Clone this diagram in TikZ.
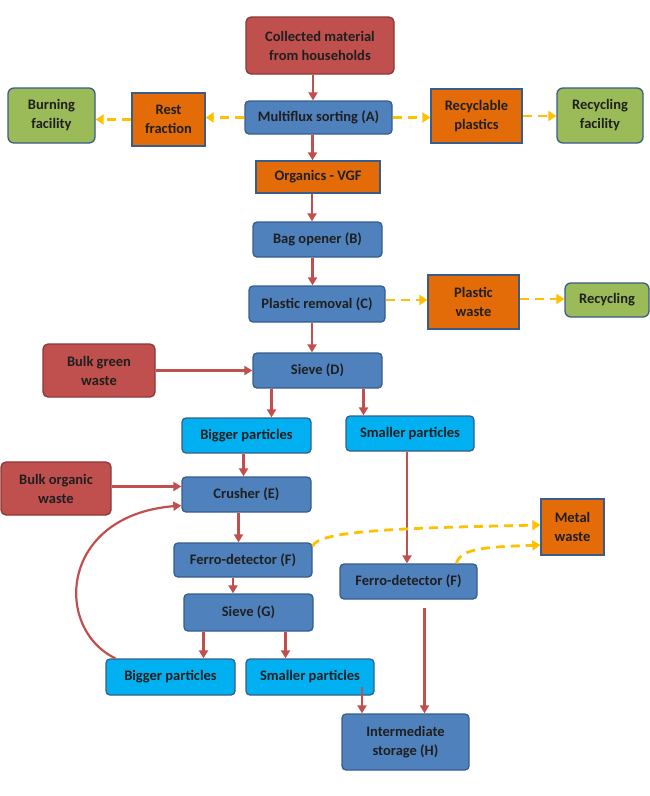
\documentclass[tikz,border=0pt]{standalone}
\usepackage{fontspec}
\setmainfont{Carlito}
\usetikzlibrary{arrows.meta}
\definecolor{boxblue}{HTML}{4F81BD}
\definecolor{edgeblue}{HTML}{385D8A}
\definecolor{boxred}{HTML}{C0504D}
\definecolor{edgered}{HTML}{8C3836}
\definecolor{boxorange}{HTML}{E36C09}
\definecolor{boxgreen}{HTML}{9BBB59}
\definecolor{boxcyan}{HTML}{00B0F0}
\definecolor{flowred}{HTML}{C0504D}
\definecolor{flowyellow}{HTML}{FFC000}
\tikzset{
  basebox/.style={rectangle, align=center, inner sep=0pt, line width=1.3pt,
    text=black!88, font=\fontsize{14.5}{19}\selectfont\bfseries},
  process/.style={basebox, draw=edgeblue, fill=boxblue, rounded corners=4pt},
  source/.style={basebox, draw=edgered, fill=boxred, rounded corners=5pt},
  fraction/.style={basebox, draw=edgeblue, fill=boxorange},
  facility/.style={basebox, draw=edgeblue, fill=boxgreen, rounded corners=6pt},
  particles/.style={basebox, draw=edgeblue, fill=boxcyan, rounded corners=4pt},
  flow/.style={draw=flowred, line width=2.2pt, -{Triangle[width=9pt,length=8pt]}},
  sideflow/.style={draw=flowyellow, line width=2.8pt, dash pattern=on 9pt off 6pt,
    -{Triangle[width=10pt,length=8pt]}}
}
\begin{document}
\begin{tikzpicture}[x=1pt, y=-1pt]
  \useasboundingbox (0,0) rectangle (650,796);

  \node[source, minimum width=148, minimum height=57] (coll) at (320,45.5) {Collected material\\from households};
  \node[process, minimum width=147, minimum height=33] (msort) at (318.5,117.5) {Multiflux sorting (A)};
  \node[fraction, minimum width=73, minimum height=53] (rest) at (168.5,119.5) {Rest\\fraction};
  \node[facility, minimum width=87, minimum height=55] (burn) at (51.5,115.5) {Burning\\facility};
  \node[fraction, minimum width=91, minimum height=54] (recpl) at (476.5,116) {Recyclable\\plastics};
  \node[facility, minimum width=86, minimum height=55] (recfac) at (600,115.5) {Recycling\\facility};
  \node[fraction, minimum width=124, minimum height=32] (vgf) at (318,177) {Organics - VGF};
  \node[process, minimum width=129, minimum height=35] (bag) at (317.5,239.5) {Bag opener (B)};
  \node[process, minimum width=136, minimum height=36] (plrem) at (317,304) {Plastic removal (C)};
  \node[fraction, minimum width=91, minimum height=54] (plw) at (473.5,302) {Plastic\\waste};
  \node[facility, minimum width=84, minimum height=34] (recyc) at (607,300) {Recycling};
  \node[source, minimum width=112, minimum height=53] (green) at (99,370.5) {Bulk green\\waste};
  \node[process, minimum width=129, minimum height=35] (sieveD) at (317.5,370.5) {Sieve (D)};
  \node[particles, minimum width=129, minimum height=35] (bigA) at (246.5,435.5) {Bigger particles};
  \node[particles, minimum width=128, minimum height=35] (smallA) at (410,433.5) {Smaller particles};
  \node[source, minimum width=110, minimum height=53] (orgw) at (56,488.5) {Bulk organic\\waste};
  \node[process, minimum width=129, minimum height=35] (crush) at (246.5,494.5) {Crusher (E)};
  \node[process, minimum width=138, minimum height=34] (ferroL) at (243,560) {Ferro-detector (F)};
  \node[fraction, minimum width=63, minimum height=56] (metal) at (572.5,527) {Metal\\waste};
  \node[process, minimum width=137, minimum height=35] (ferroR) at (408.5,581.5) {Ferro-detector (F)};
  \node[process, minimum width=129, minimum height=37] (sieveG) at (248.5,612.5) {Sieve (G)};
  \node[particles, minimum width=129, minimum height=36] (bigB) at (170.5,677) {Bigger particles};
  \node[particles, minimum width=128, minimum height=36] (smallB) at (310,677) {Smaller particles};
  \node[process, minimum width=127, minimum height=56] (store) at (405.5,742) {Intermediate\\storage (H)};

  \draw[flow] ([xshift=-7]coll.south) -- ([xshift=-7]coll.south |- msort.north);
  \draw[sideflow] (msort.west) -- (msort.west -| rest.east);
  \draw[sideflow] (rest.west) -- (rest.west -| burn.east);
  \draw[sideflow] (msort.east) -- (msort.east -| recpl.west);
  \draw[sideflow] (recpl.east) -- (recpl.east -| recfac.west);
  \draw[flow] ([xshift=-6]msort.south) -- ([xshift=-6]msort.south |- vgf.north);
  \draw[flow] ([xshift=-6]vgf.south) -- ([xshift=-6]vgf.south |- bag.north);
  \draw[flow] ([xshift=-5]bag.south) -- ([xshift=-5]bag.south |- plrem.north);
  \draw[sideflow] ([yshift=4]plrem.east) -- ([yshift=4]plrem.east -| plw.west);
  \draw[sideflow] ([yshift=3]plw.east) -- ([yshift=3]plw.east -| recyc.west);
  \draw[flow] ([xshift=-5]plrem.south) -- ([xshift=-5]plrem.south |- sieveD.north);
  \draw[flow] (green.east) -- (green.east -| sieveD.west);
  \draw[flow] ([xshift=-46]sieveD.south) -- ([xshift=-46]sieveD.south |- bigA.north);
  \draw[flow] ([xshift=46]sieveD.south) -- ([xshift=46]sieveD.south |- smallA.north);
  \draw[flow] ([xshift=-3]bigA.south) -- ([xshift=-3]bigA.south |- crush.north);
  \draw[flow] ([yshift=2]orgw.east) -- ([yshift=2]orgw.east -| crush.west);
  \draw[flow] ([xshift=10]bigB.north west) .. controls +(-62,-30) and +(-122,10) .. ([yshift=-11]crush.west);
  \draw[flow] ([xshift=-8]crush.south) -- ([xshift=-8]crush.south |- ferroL.north);
  \draw[flow] ([xshift=-10]ferroL.south) -- ([xshift=-10]ferroL.south |- sieveG.north);
  \draw[flow] ([xshift=-45]sieveG.south) -- ([xshift=-45]sieveG.south |- bigB.north);
  \draw[flow] ([xshift=37]sieveG.south) -- ([xshift=37]sieveG.south |- smallB.north);
  \draw[flow] ([xshift=-3]smallA.south) -- ([xshift=-3]smallA.south |- ferroR.north);
  \draw[sideflow] ([yshift=-4]ferroL.north east) .. controls +(4,-16) and +(-137,3) .. ([yshift=2]metal.west);
  \draw[sideflow] ([xshift=48]ferroR.north) .. controls +(4,-16) and +(-50,2) .. ([yshift=-18]metal.west);
  \draw[flow] ([xshift=52,yshift=9]smallB.south) -- ([xshift=52]smallB.south |- store.north);
  \draw[flow] ([xshift=16,yshift=-8]ferroR.south) -- ([xshift=16]ferroR.south |- store.north);
\end{tikzpicture}
\end{document}
